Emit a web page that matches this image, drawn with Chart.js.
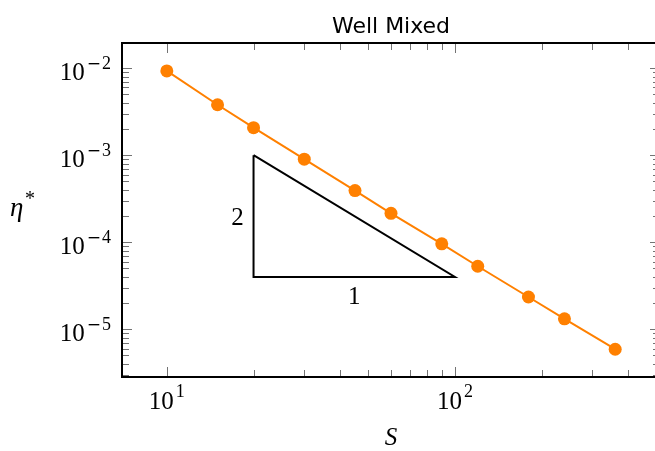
<!DOCTYPE html>
<html>
<head>
<meta charset="utf-8">
<script src="https://cdn.jsdelivr.net/npm/chart.js@4"></script>
<style>
  html, body { margin: 0; padding: 0; background: #fff; overflow: hidden; }
  canvas { display: block; }
</style>
</head>
<body>
<canvas id="wellMixed" width="665" height="451"></canvas>
<script>
// S values and eta*
var sValues = [10, 15, 20, 30, 45, 60, 90, 120, 180, 240, 360]
var etaValues = [9.3e-3, 3.8e-3, 2.07e-3, 9.0e-4, 3.92e-4, 2.15e-4, 9.6e-5, 5.3e-5, 2.35e-5, 1.32e-5, 5.9e-6]

// slope triangle (2 : 1)
var triangleX = [20, 20, 100, 20]
var triangleY = [1e-3, 4e-5, 4e-5, 1e-3]

var xMajorTicks = [10, 100]
var xMinorTicks = [20, 30, 40, 50, 60, 70, 80, 90, 200, 300, 400, 500]
var xTickLabels = [['10', '1'], ['10', '2']]

var yMajorTicks = [1e-5, 1e-4, 1e-3, 1e-2]
var yMinorTicks = [3e-6, 4e-6, 5e-6, 6e-6, 7e-6, 8e-6, 9e-6,
    2e-5, 3e-5, 4e-5, 5e-5, 6e-5, 7e-5, 8e-5, 9e-5,
    2e-4, 3e-4, 4e-4, 5e-4, 6e-4, 7e-4, 8e-4, 9e-4,
    2e-3, 3e-3, 4e-3, 5e-3, 6e-3, 7e-3, 8e-3, 9e-3]
var yTickLabels = [['10', '\u22125'], ['10', '\u22124'], ['10', '\u22123'], ['10', '\u22122']]

var ORANGE = '#ff8000'
var SERIF = '"Liberation Serif", "DejaVu Serif", serif'

function toPoints(xs, ys) {
    var pts = []
    for (var i = 0; i < xs.length; i++) pts.push({x: xs[i], y: ys[i]})
    return pts
}

// exponent text: minus sign drawn a bit wider, like TeX math
function expWidth(ctx, s) {
    var w = 0
    if (s.charAt(0) === '\u2212') {
        ctx.font = '17px "DejaVu Sans", sans-serif'
        w += ctx.measureText('\u2212').width + 1
        s = s.slice(1)
    }
    ctx.font = '18px ' + SERIF
    return w + ctx.measureText(s).width
}
function drawExp(ctx, s, x, y) {
    ctx.textAlign = 'left'
    if (s.charAt(0) === '\u2212') {
        ctx.font = '17px "DejaVu Sans", sans-serif'
        ctx.fillText('\u2212', x, y)
        x += ctx.measureText('\u2212').width + 1
        s = s.slice(1)
    }
    ctx.font = '18px ' + SERIF
    ctx.fillText(s, x, y)
}

// frame, ticks and all the texts, drawn from the chart's scales
var decorations = {
    id: 'decorations',
    afterDatasetsDraw: function(chart) {
        var ctx = chart.ctx
        var area = chart.chartArea
        var xs = chart.scales.x
        var ys = chart.scales.y
        ctx.save()

        // tick marks, inward on all four sides
        ctx.strokeStyle = 'rgba(0,0,0,0.55)'
        ctx.lineWidth = 1
        function xTick(v, len) {
            var px = Math.round(xs.getPixelForValue(v)) + 0.5
            ctx.beginPath()
            ctx.moveTo(px, area.bottom); ctx.lineTo(px, area.bottom - len)
            ctx.moveTo(px, area.top); ctx.lineTo(px, area.top + len)
            ctx.stroke()
        }
        function yTick(v, len) {
            var py = Math.round(ys.getPixelForValue(v)) + 0.5
            ctx.beginPath()
            ctx.moveTo(area.left, py); ctx.lineTo(area.left + len, py)
            ctx.moveTo(area.right, py); ctx.lineTo(area.right - len, py)
            ctx.stroke()
        }
        xMinorTicks.forEach(function(v) { xTick(v, 7) })
        xMajorTicks.forEach(function(v) { xTick(v, 10) })
        yMinorTicks.forEach(function(v) { yTick(v, 7) })
        yMajorTicks.forEach(function(v) { yTick(v, 10) })

        // frame
        ctx.strokeStyle = '#000'
        ctx.lineWidth = 2
        ctx.strokeRect(area.left, area.top, area.right - area.left, area.bottom - area.top)

        ctx.fillStyle = '#000'
        ctx.textBaseline = 'alphabetic'
        var baseFont = '25px ' + SERIF

        // x tick labels
        xMajorTicks.forEach(function(v, i) {
            var px = xs.getPixelForValue(v)
            ctx.font = baseFont
            var wb = ctx.measureText(xTickLabels[i][0]).width
            var we = expWidth(ctx, xTickLabels[i][1])
            var x0 = px - (wb + we + 2) / 2
            ctx.font = baseFont
            ctx.textAlign = 'left'
            ctx.fillText(xTickLabels[i][0], x0, area.bottom + 32)
            drawExp(ctx, xTickLabels[i][1], x0 + wb + 2, area.bottom + 20)
        })

        // y tick labels
        yMajorTicks.forEach(function(v, i) {
            var py = ys.getPixelForValue(v)
            var we = expWidth(ctx, yTickLabels[i][1])
            var xe = area.left - 11 - we
            drawExp(ctx, yTickLabels[i][1], xe, py + 1)
            ctx.font = baseFont
            ctx.textAlign = 'right'
            ctx.fillText(yTickLabels[i][0], xe - 2, py + 12)
        })

        // axis titles
        ctx.font = 'italic 25px ' + SERIF
        ctx.textAlign = 'center'
        ctx.fillText('S', (area.left + area.right) / 2, 445)
        ctx.textAlign = 'left'
        ctx.font = 'italic 27px ' + SERIF
        ctx.fillText('\u03b7', 10, 216)
        ctx.font = '20px ' + SERIF
        ctx.fillText('*', 25, 205)

        // title
        ctx.font = '22px "DejaVu Sans", sans-serif'
        ctx.textAlign = 'center'
        ctx.fillText('Well Mixed', (area.left + area.right) / 2, 33)

        // slope triangle labels
        ctx.font = baseFont
        ctx.fillText('2', xs.getPixelForValue(triangleX[0]) - 16,
            (ys.getPixelForValue(triangleY[0]) + ys.getPixelForValue(triangleY[1])) / 2 + 9)
        ctx.fillText('1', (xs.getPixelForValue(triangleX[1]) + xs.getPixelForValue(triangleX[2])) / 2,
            ys.getPixelForValue(triangleY[1]) + 27)

        ctx.restore()
    }
}

var chart = new Chart(document.getElementById('wellMixed'), {
    type: 'scatter',
    data: {
        datasets: [{
            label: 'eta*',
            data: toPoints(sValues, etaValues),
            showLine: true,
            borderColor: ORANGE,
            backgroundColor: ORANGE,
            borderWidth: 2,
            pointRadius: 6.5,
            pointBorderWidth: 0,
            pointBackgroundColor: ORANGE
        }, {
            label: 'slope',
            data: toPoints(triangleX, triangleY),
            showLine: true,
            borderColor: '#000',
            borderWidth: 2,
            pointRadius: 0,
            fill: false
        }]
    },
    options: {
        responsive: false,
        animation: false,
        layout: {
            autoPadding: false,
            padding: {left: 122, top: 43, right: 5, bottom: 74}
        },
        scales: {
            x: {
                type: 'logarithmic',
                min: 6.99,
                max: 515,
                display: false
            },
            y: {
                type: 'logarithmic',
                min: 2.83e-6,
                max: 0.01945,
                display: false
            }
        },
        plugins: {
            legend: {display: false},
            tooltip: {enabled: false},
            title: {display: false}
        }
    },
    plugins: [decorations]
})
</script>
</body>
</html>
